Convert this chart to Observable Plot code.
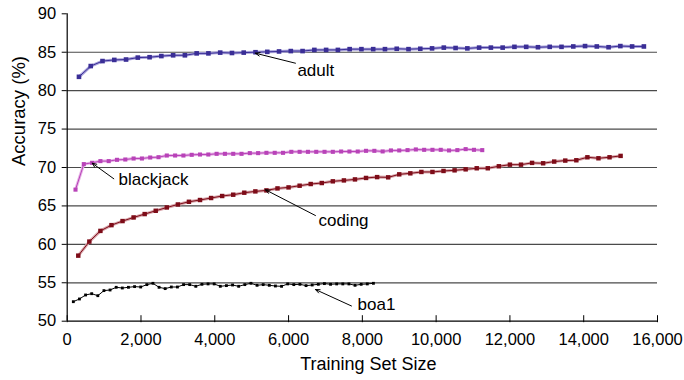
<!DOCTYPE html>
<html>
<head>
<meta charset="utf-8">
<script src="https://cdn.jsdelivr.net/npm/d3@7"></script>
<script src="https://cdn.jsdelivr.net/npm/@observablehq/plot@0.6"></script>
<style>
  html, body { margin: 0; padding: 0; background: #fff; }
  #chart svg { display: block; }
</style>
</head>
<body>
<div id="chart"></div>
<script>
// ---- data ----
const xTicks = [0, 2000, 4000, 6000, 8000, 10000, 12000, 14000, 16000];
const yTicks = [50, 55, 60, 65, 70, 75, 80, 85, 90];
const gridValues = [55, 60, 65, 70, 75, 80, 85];

const adultStep = 319;
const adultAcc = [81.8, 83.2, 83.85, 84.0, 84.05, 84.3, 84.35, 84.5, 84.6, 84.6,
  84.85, 84.85, 84.95, 84.9, 84.95, 85.0, 85.05, 85.1, 85.15, 85.15,
  85.3, 85.3, 85.3, 85.4, 85.4, 85.4, 85.4, 85.45, 85.4, 85.45,
  85.5, 85.6, 85.55, 85.5, 85.6, 85.6, 85.6, 85.7, 85.7, 85.65,
  85.7, 85.7, 85.75, 85.8, 85.75, 85.65, 85.8, 85.75, 85.75];

const blackjackStep = 225;
const blackjackAcc = [67.12, 70.44, 70.61, 70.83, 70.83, 71.0, 71.04, 71.17, 71.17, 71.3,
  71.34, 71.56, 71.56, 71.56, 71.65, 71.69, 71.69, 71.78, 71.78, 71.78,
  71.78, 71.87, 71.87, 71.91, 71.91, 71.91, 72.04, 72.04, 72.04, 72.04,
  72.04, 72.04, 72.08, 72.08, 72.08, 72.17, 72.17, 72.09, 72.22, 72.22,
  72.26, 72.35, 72.3, 72.3, 72.3, 72.22, 72.26, 72.39, 72.3, 72.26];

const codingStep = 300;
const codingAcc = [58.53, 60.36, 61.75, 62.5, 63.03, 63.5, 63.94, 64.37, 64.8, 65.19,
  65.54, 65.77, 66.03, 66.29, 66.46, 66.72, 66.89, 67.02, 67.28, 67.41,
  67.63, 67.85, 67.98, 68.2, 68.32, 68.45, 68.64, 68.75, 68.72, 69.11,
  69.24, 69.42, 69.42, 69.55, 69.63, 69.76, 69.9, 69.9, 70.16, 70.37,
  70.37, 70.6, 70.55, 70.77, 70.9, 70.94, 71.33, 71.2, 71.33, 71.51];

const boaStep = 166;
const boaAcc = [52.54, 52.89, 53.41, 53.58, 53.32, 53.98, 54.06, 54.41, 54.32, 54.41,
  54.5, 54.45, 54.76, 54.93, 54.41, 54.24, 54.45, 54.45, 54.76, 54.76,
  54.54, 54.8, 54.85, 54.85, 54.54, 54.63, 54.71, 54.54, 54.76, 54.93,
  54.67, 54.76, 54.67, 54.58, 54.54, 54.85, 54.76, 54.8, 54.63, 54.71,
  54.8, 54.89, 54.8, 54.85, 54.85, 54.85, 54.67, 54.8, 54.85, 54.93];

// annotation labels and arrows (data units)
const labelNames = ["adult", "blackjack", "coding", "boa1"];
const labelX = [6240, 1390, 6810, 7870];
const labelY = [82.62, 68.44, 63.1, 52.17];
const arrowFromX = [6187, 1263, 6729, 7705];
const arrowFromY = [83.57, 68.53, 63.75, 51.98];
const arrowToX = [5103, 678, 5374, 6729];
const arrowToY = [84.87, 70.56, 67.1, 54.12];

// ---- build tables ----
const toRows = (acc, step) => acc.map((v, i) => ({size: step * (i + 1), acc: v}));
const adult = toRows(adultAcc, adultStep);
const blackjack = toRows(blackjackAcc, blackjackStep);
const coding = toRows(codingAcc, codingStep);
const boa = toRows(boaAcc, boaStep);
const labels = labelNames.map((t, i) => ({t, x: labelX[i], y: labelY[i]}));
const arrows = labelNames.map((t, i) => ({x1: arrowFromX[i], y1: arrowFromY[i], x2: arrowToX[i], y2: arrowToY[i]}));

const font = "'Liberation Sans', Arial, Helvetica, sans-serif";

const series = (rows, halo, core, r, haloW) => [
  ...(halo ? [Plot.line(rows, {x: "size", y: "acc", stroke: halo, strokeWidth: haloW})] : []),
  Plot.line(rows, {x: "size", y: "acc", stroke: core, strokeWidth: 1}),
  Plot.dot(rows, {x: "size", y: "acc", symbol: "square", r, fill: core, stroke: "none"})
];

const chart = Plot.plot({
  width: 684,
  height: 380,
  marginLeft: 66.7,
  marginRight: 27,
  marginTop: 13.3,
  marginBottom: 59.3,
  style: {fontFamily: font, fontSize: "16.5px", color: "#000", background: "#fff"},
  x: {domain: [0, 16000]},
  y: {domain: [50, 90]},
  marks: [
    Plot.gridY(gridValues, {stroke: "#4a4a4a", strokeOpacity: 1, strokeWidth: 1.2}),
    Plot.ruleY([50], {stroke: "#000", strokeWidth: 1.2}),
    Plot.ruleX([0], {stroke: "#000", strokeWidth: 1.2}),
    Plot.axisY({ticks: yTicks, tickSize: 5, tickPadding: 6, tickFormat: d => String(d), label: null, fontSize: 16.5, stroke: "#000"}),
    Plot.axisX({ticks: xTicks, tickSize: 7, tickPadding: 11, dy: -5.5, tickFormat: d3.format(","), label: null, fontSize: 16.5, stroke: "#000"}),
    ...series(boa, null, "#000", 1.6, 0),
    ...series(coding, "#d9a6ac", "#7d0c18", 2.5, 3),
    ...series(blackjack, "#e7b3e7", "#b843b8", 2.3, 3),
    ...series(adult, "#aaa4dc", "#3a2e96", 2.6, 3),
    Plot.arrow(arrows, {x1: "x1", y1: "y1", x2: "x2", y2: "y2", stroke: "#000", strokeWidth: 1, headLength: 7, headAngle: 45}),
    Plot.text(labels, {x: "x", y: "y", text: "t", textAnchor: "start", lineAnchor: "middle", fontSize: 17, fill: "#000"}),
    Plot.text(["Training Set Size"], {frameAnchor: "bottom", dy: 43, dx: 6, lineAnchor: "middle", fontSize: 18, fill: "#000"}),
    Plot.text(["Accuracy (%)"], {frameAnchor: "left", dx: -48, dy: -1.5, rotate: -90, lineAnchor: "middle", fontSize: 18.5, fill: "#000"})
  ]
});
document.getElementById("chart").appendChild(chart);
</script>
</body>
</html>
